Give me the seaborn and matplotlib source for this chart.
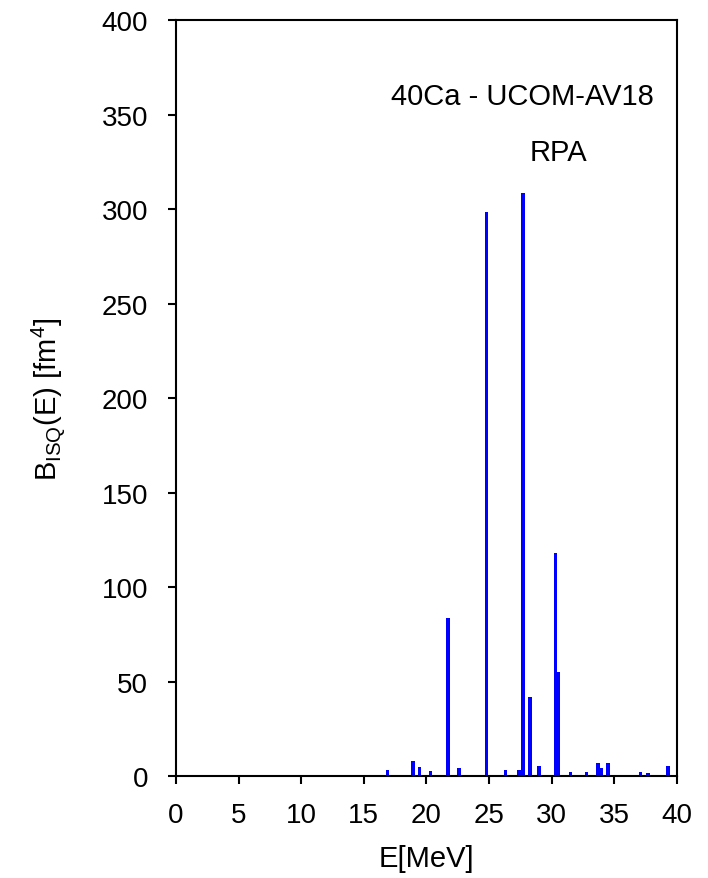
"""Isoscalar quadrupole strength of 40Ca (UCOM-AV18, RPA)."""

import matplotlib

matplotlib.use("Agg")
import matplotlib.pyplot as plt
import seaborn as sns

# RPA transition energies (MeV) and strengths (fm^4)
energy = [16.87, 18.91, 19.44, 20.32, 21.73, 22.60, 24.80, 25.70, 26.30,
          27.40, 27.70, 28.27, 28.98, 30.30, 30.50, 30.80, 31.50, 32.10,
          32.80, 33.70, 33.95, 34.50, 35.70, 37.10, 37.70, 38.80, 39.30]
strength = [3.0, 8.0, 4.7, 2.7, 83.5, 4.3, 298.5, 0.3, 3.0,
            3.3, 308.5, 41.6, 5.3, 118.0, 55.0, 0.6, 2.0, 0.3,
            2.0, 7.0, 4.0, 7.0, 0.8, 2.0, 1.5, 0.6, 5.5]

x_ticks = list(range(0, 41, 5))
y_ticks = list(range(0, 401, 50))

sns.set_style("white")
plt.rcParams["font.family"] = ["Liberation Sans", "DejaVu Sans"]
plt.rcParams["mathtext.fontset"] = "custom"
plt.rcParams["mathtext.rm"] = "Liberation Sans"
plt.rcParams["mathtext.it"] = "Liberation Sans:italic"
plt.rcParams["text.color"] = "black"
plt.rcParams["axes.labelcolor"] = "black"
plt.rcParams["xtick.color"] = "black"
plt.rcParams["ytick.color"] = "black"

fig = plt.figure(figsize=(7.08, 8.79), dpi=100)
ax = fig.add_axes([0.2486, 0.116, 0.7075, 0.86])

ax.bar(energy, strength, width=0.27, color="#0000ff", linewidth=0)

ax.set_xlim(0, 40)
ax.set_ylim(0, 400)
ax.set_xticks(x_ticks)
ax.set_yticks(y_ticks)
ax.tick_params(axis="both", direction="out", length=6, width=1.5,
               labelsize=20, bottom=True, left=True, top=False, right=False)
ax.tick_params(axis="y", pad=14)
ax.tick_params(axis="x", pad=13)
for spine in ax.spines.values():
    spine.set_visible(True)
    spine.set_color("black")
    spine.set_linewidth(1.5)

ax.set_xlabel("E[MeV]", fontsize=21)
ax.xaxis.set_label_coords(0.5, -0.09)
ax.set_ylabel(r"B$_{\mathrm{ISQ}}$(E) [fm$^{4}$]", fontsize=21)
ax.yaxis.set_label_coords(-0.216, 0.5)

ax.text(27.7, 360, "40Ca - UCOM-AV18", fontsize=21, ha="center", va="center")
ax.text(30.5, 330, "RPA", fontsize=21, ha="center", va="center")

fig.savefig("out.png", dpi=100)
